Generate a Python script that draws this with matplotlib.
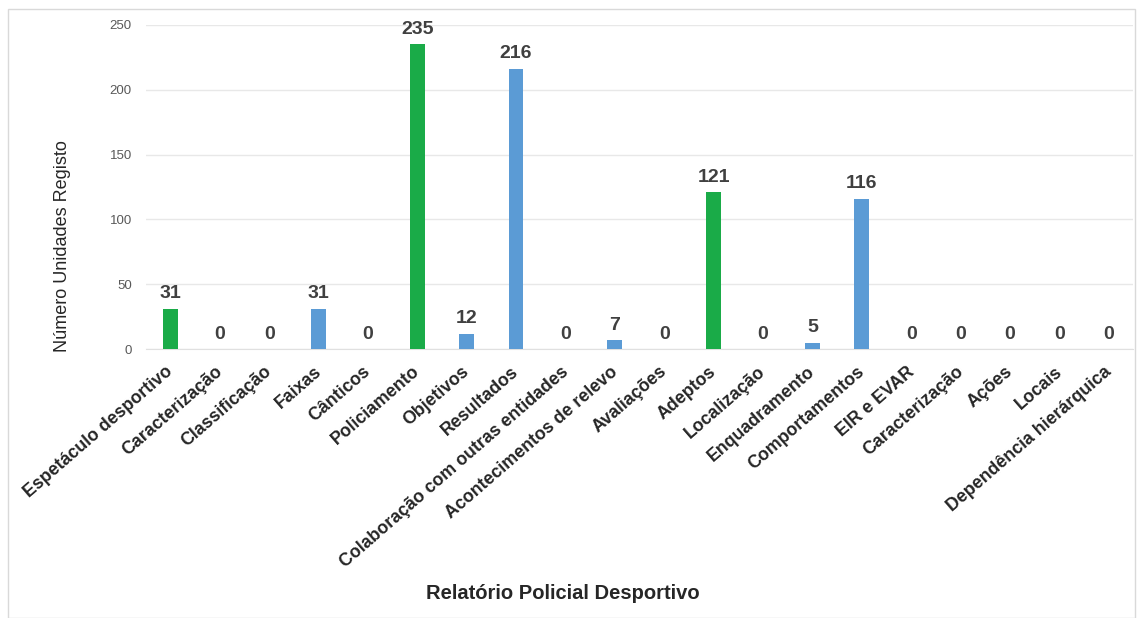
import matplotlib
matplotlib.use('Agg')
import matplotlib.pyplot as plt
import matplotlib.transforms as mtransforms
from matplotlib.patches import Rectangle

plt.rcParams['font.family'] = ['Liberation Sans', 'DejaVu Sans']

# Data
categories = [
    'Espetáculo desportivo', 'Caracterização', 'Classificação', 'Faixas',
    'Cânticos', 'Policiamento', 'Objetivos', 'Resultados',
    'Colaboração com outras entidades', 'Acontecimentos de relevo',
    'Avaliações', 'Adeptos', 'Localização', 'Enquadramento',
    'Comportamentos', 'EIR e EVAR', 'Caracterização', 'Ações', 'Locais',
    'Dependência hierárquica',
]
values = [31, 0, 0, 31, 0, 235, 12, 216, 0, 7, 0, 121, 0, 5, 116, 0, 0, 0, 0, 0]
is_header = [1, 0, 0, 0, 0, 1, 0, 0, 0, 0, 0, 1, 0, 0, 0, 0, 0, 0, 0, 0]
y_ticks = [0, 50, 100, 150, 200, 250]

GREEN = '#1aab48'
BLUE = '#5b9bd5'
DARK = '#262626'

fig = plt.figure(figsize=(11.38, 6.18), dpi=100)
fig.patch.set_facecolor('white')
fig.patches.append(Rectangle((0.007, 0.0), 0.99, 0.985, transform=fig.transFigure,
                             fill=False, edgecolor='#d9d9d9', linewidth=1))

ax = fig.add_axes([0.128, 0.435, 0.868, 0.525])
x = list(range(len(categories)))
colors = [GREEN if h else BLUE for h in is_header]
ax.bar(x, values, width=0.3, color=colors, zorder=3)

for xi, v in zip(x, values):
    ax.text(xi, v + 5, str(v), ha='center', va='bottom', fontsize=14,
            fontweight='bold', color='#404040')

ax.set_xlim(-0.5, len(categories) - 0.5)
ax.set_ylim(0, 250)
ax.set_yticks(y_ticks)
ax.tick_params(axis='y', labelsize=9.5, colors='#595959', length=0, pad=10)
ax.grid(axis='y', color='#e8e8e8', linewidth=1, zorder=0)
for s in ['top', 'right', 'left']:
    ax.spines[s].set_visible(False)
ax.spines['bottom'].set_color('#e0e0e0')

ax.set_xticks(x)
ax.set_xticklabels(categories, rotation=41, ha='right', rotation_mode='anchor',
                   fontsize=12.8, fontweight='bold', color=DARK)
ax.tick_params(axis='x', length=0, pad=10)
shift = mtransforms.ScaledTranslation(-5 / 100, 0, fig.dpi_scale_trans)
for lbl in ax.get_xticklabels():
    lbl.set_transform(lbl.get_transform() + shift)

fig.text(0.055, 1 - 246 / 618, 'Número Unidades Registo', rotation=90,
         ha='center', va='center', fontsize=13, color=DARK)
fig.text(0.495, 0.04, 'Relatório Policial Desportivo', ha='center', va='center',
         fontsize=14.5, fontweight='bold', color=DARK)

fig.savefig('out.png', dpi=100, facecolor='white')
